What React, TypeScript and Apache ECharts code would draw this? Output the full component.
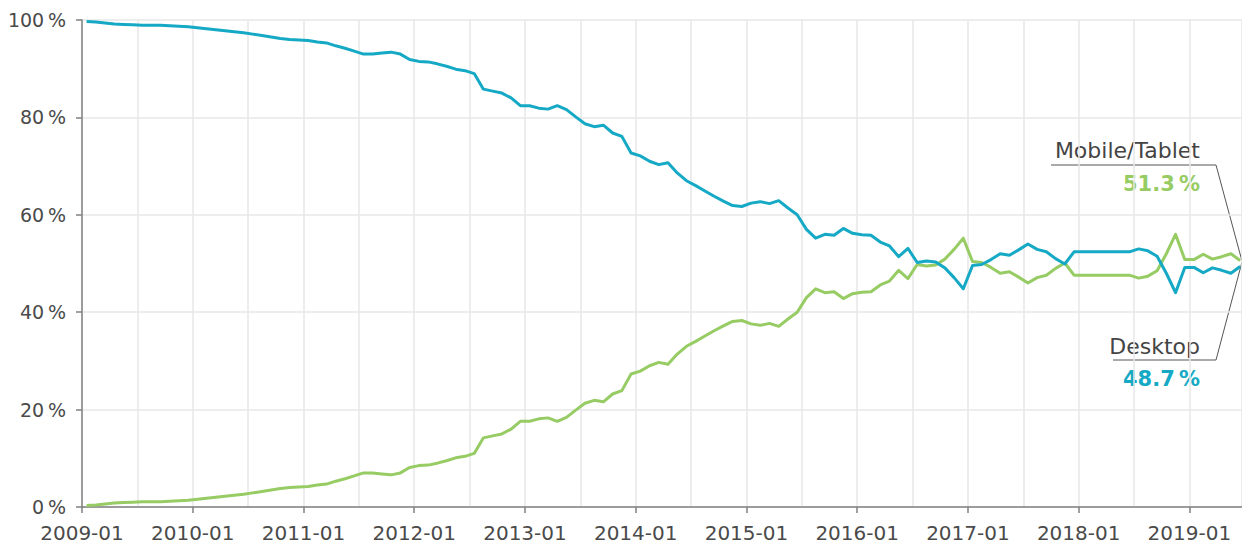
import React, { useEffect, useRef } from "react";
import * as echarts from "echarts";

// Month categories: 2009-01 .. 2019-06
const startYear = 2009;
const monthCount = 126;
const months: string[] = [];
for (let i = 0; i < monthCount; i++) {
  const y = startYear + Math.floor(i / 12);
  const m = (i % 12) + 1;
  months.push(`${y}-${String(m).padStart(2, "0")}`);
}

// Share of page views, %
const mobileTablet = [
  0.3, 0.4, 0.6, 0.8, 0.9, 1.0, 1.1, 1.1, 1.1, 1.2, 1.3, 1.4,
  1.6, 1.8, 2.0, 2.2, 2.4, 2.6, 2.9, 3.2, 3.5, 3.8, 4.0, 4.1,
  4.2, 4.5, 4.7, 5.3, 5.8, 6.4, 7.0, 7.0, 6.8, 6.6, 7.0, 8.1,
  8.5, 8.6, 9.0, 9.5, 10.1, 10.4, 11.0, 14.2, 14.6, 15.0, 16.0, 17.6,
  17.6, 18.1, 18.3, 17.6, 18.4, 19.9, 21.3, 21.9, 21.6, 23.2, 23.9, 27.3,
  27.9, 29.0, 29.7, 29.3, 31.4, 33.0, 34.0, 35.1, 36.2, 37.2, 38.1, 38.3,
  37.6, 37.3, 37.7, 37.1, 38.6, 40.0, 43.0, 44.8, 44.0, 44.2, 42.8, 43.8,
  44.1, 44.2, 45.6, 46.4, 48.6, 46.9, 49.8, 49.5, 49.7, 50.9, 52.9, 55.2,
  50.4, 50.2, 49.2, 48.0, 48.3, 47.2, 46.0, 47.1, 47.6, 49.0, 50.1, 47.6,
  47.6, 47.6, 47.6, 47.6, 47.6, 47.6, 47.0, 47.4, 48.5, 52.0, 56.0, 50.8,
  50.8, 51.9, 50.9, 51.4, 52.0, 50.6,
];

const desktop = [
  99.7, 99.6, 99.4, 99.2, 99.1, 99.0, 98.9, 98.9, 98.9, 98.8, 98.7, 98.6,
  98.4, 98.2, 98.0, 97.8, 97.6, 97.4, 97.1, 96.8, 96.5, 96.2, 96.0, 95.9,
  95.8, 95.5, 95.3, 94.7, 94.2, 93.6, 93.0, 93.0, 93.2, 93.4, 93.0, 91.9,
  91.5, 91.4, 91.0, 90.5, 89.9, 89.6, 89.0, 85.8, 85.4, 85.0, 84.0, 82.4,
  82.4, 81.9, 81.7, 82.4, 81.6, 80.1, 78.7, 78.1, 78.4, 76.8, 76.1, 72.7,
  72.1, 71.0, 70.3, 70.7, 68.6, 67.0, 66.0, 64.9, 63.8, 62.8, 61.9, 61.7,
  62.4, 62.7, 62.3, 62.9, 61.4, 60.0, 57.0, 55.2, 56.0, 55.8, 57.2, 56.2,
  55.9, 55.8, 54.4, 53.6, 51.4, 53.1, 50.2, 50.5, 50.3, 49.1, 47.1, 44.8,
  49.6, 49.8, 50.8, 52.0, 51.7, 52.8, 54.0, 52.9, 52.4, 51.0, 49.9, 52.4,
  52.4, 52.4, 52.4, 52.4, 52.4, 52.4, 53.0, 52.6, 51.5, 48.0, 44.0, 49.2,
  49.2, 48.1, 49.1, 48.6, 48.0, 49.4,
];

const seriesNames = ["Mobile/Tablet", "Desktop"];
const latestValues = ["51.3", "48.7"];

const GREEN = "#97cc64";
const TEAL = "#15a9c5";
const FONT = "DejaVu Sans";

export default function App() {
  const ref = useRef<HTMLDivElement>(null);

  useEffect(() => {
    if (!ref.current) return;
    const chart = echarts.init(ref.current, null, { renderer: "svg" });
    const xMax = 125.7;
    const gridLine = { color: "#e7e7e7", width: 1.5 };
    const axisGray = "#808080";

    chart.setOption({
      animation: false,
      grid: { left: 82, right: 0, top: 20, bottom: 38 },
      xAxis: [
        {
          type: "value",
          min: 0,
          max: xMax,
          interval: 6,
          axisLine: { show: false },
          axisTick: { show: false },
          axisLabel: { show: false },
          splitLine: { show: true, lineStyle: gridLine },
        },
        {
          type: "value",
          min: 0,
          max: xMax,
          interval: 12,
          position: "bottom",
          axisLine: { show: true, onZero: false, lineStyle: { color: axisGray, width: 1.5 } },
          axisTick: { show: true, length: 6, lineStyle: { color: axisGray, width: 1.5 } },
          axisLabel: {
            formatter: (v: number) => (v % 12 === 0 ? months[v] : ""),
            color: "#4a4a4a",
            fontSize: 20,
            fontFamily: FONT,
            margin: 16,
            showMaxLabel: false,
          },
          splitLine: { show: false },
        },
      ],
      yAxis: {
        type: "value",
        min: 0,
        max: 100,
        interval: 20,
        axisLine: { show: true, lineStyle: { color: axisGray, width: 1.5 } },
        axisTick: { show: true, length: 6, lineStyle: { color: axisGray, width: 1.5 } },
        axisLabel: {
          formatter: (v: number) => `${v}\u2009%`,
          color: "#4a4a4a",
          fontSize: 19,
          fontFamily: FONT,
          margin: 16,
        },
        splitLine: { show: true, lineStyle: gridLine },
      },
      series: [
        {
          name: seriesNames[0],
          type: "line",
          xAxisIndex: 0,
          data: mobileTablet.map((v, i) => [i + 0.5, v]),
          symbol: "none",
          lineStyle: { color: GREEN, width: 3, join: "round" },
          itemStyle: { color: GREEN },
        },
        {
          name: seriesNames[1],
          type: "line",
          xAxisIndex: 0,
          data: desktop.map((v, i) => [i + 0.5, v]),
          symbol: "none",
          lineStyle: { color: TEAL, width: 3, join: "round" },
          itemStyle: { color: TEAL },
        },
      ],
      graphic: [
        {
          type: "polyline",
          shape: { points: [[1051, 165], [1216, 165], [1242, 261]] },
          style: { stroke: "#555", lineWidth: 1, fill: null },
        },
        {
          type: "polyline",
          shape: { points: [[1113, 360], [1216, 360], [1242, 262]] },
          style: { stroke: "#555", lineWidth: 1, fill: null },
        },
        {
          type: "text",
          x: 1200,
          y: 150,
          style: {
            text: seriesNames[0],
            fill: "#444",
            font: `22px ${FONT}`,
            align: "right",
            verticalAlign: "middle",
          },
        },
        {
          type: "text",
          x: 1200,
          y: 184,
          style: {
            text: `${latestValues[0]}\u2009%`,
            fill: GREEN,
            font: `bold 21px ${FONT}`,
            align: "right",
            verticalAlign: "middle",
          },
        },
        {
          type: "text",
          x: 1200,
          y: 346,
          style: {
            text: seriesNames[1],
            fill: "#444",
            font: `22px ${FONT}`,
            align: "right",
            verticalAlign: "middle",
          },
        },
        {
          type: "text",
          x: 1200,
          y: 379,
          style: {
            text: `${latestValues[1]}\u2009%`,
            fill: TEAL,
            font: `bold 21px ${FONT}`,
            align: "right",
            verticalAlign: "middle",
          },
        },
      ],
    });

    return () => chart.dispose();
  }, []);

  return (
    <div
      ref={ref}
      style={{ position: "fixed", left: 0, top: 0, width: 1242, height: 545, background: "#fff" }}
    />
  );
}
